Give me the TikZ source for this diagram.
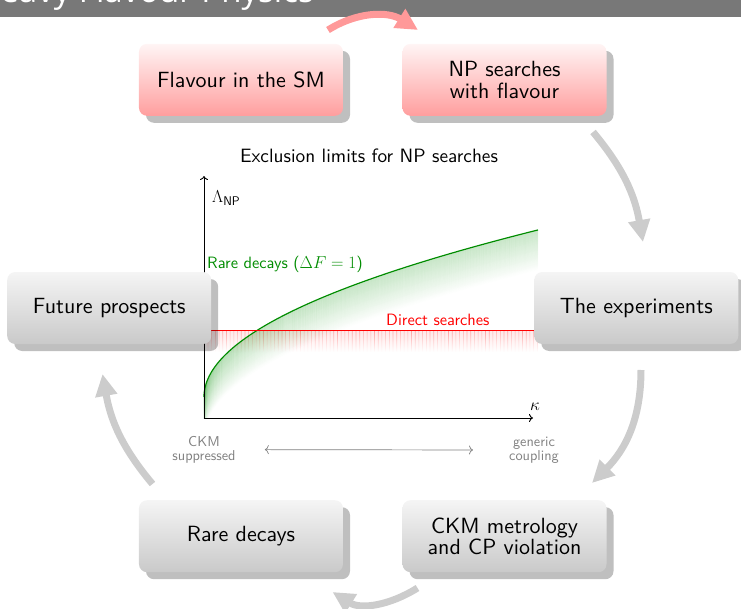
\documentclass[tikz,border=0pt]{standalone}
\usepackage{fontspec}
\usetikzlibrary{arrows.meta,shadows}
\newfontfamily\lmsten{lmsans10-regular}[Extension=.otf]
\newfontfamily\titlefont{Open Sans}

\tikzset{
  module/.style={rectangle, rounded corners=8pt, minimum width=204pt, minimum height=72pt,
    inner sep=0pt, align=center, text=black, font=\fontsize{22}{21.6}\lmsten,
    drop shadow={shadow xshift=7pt, shadow yshift=-7pt, opacity=.25, fill=black}},
  hot/.style={module, top color=red!4, bottom color=red!38},
  cold/.style={module, top color=black!4, bottom color=black!21},
  flow/.style={line width=7pt, draw=black!20, -{Triangle[length=22pt,width=21pt]}},
  flowhot/.style={flow, draw=red!40},
  axisline/.style={line width=0.9pt, -{To[length=4pt,width=8pt]}},
  note/.style={align=center, inner sep=0pt, text=black!50, font=\fontsize{14.3}{13.5}\lmsten},
  plotlabel/.style={inner sep=0pt, font=\fontsize{16.4}{17}\lmsten},
}

\begin{document}
\begin{tikzpicture}[x=1pt,y=1pt]
\useasboundingbox (-372.75,-300) rectangle (368.25,308);
\clip (-372.75,-300) rectangle (368.25,308);

% title bar
\fill[black!53] (-372.75,291) rectangle (368.25,308);
\node[anchor=base east, text=white, inner sep=0pt, font=\fontsize{33}{33}\titlefont] (frametitle) at (-58.75,305) {Heavy Flavour Physics};

% ---- exclusion plot ----
\coordinate (O) at (-168.75,-110);
\coordinate (yend) at (-168.75,132);
\coordinate (xend) at (160.25,-110);
\node[anchor=base, inner sep=0pt, font=\fontsize{19.3}{20}\lmsten] (plottitle) at (-3.75,145) {Exclusion limits for NP searches};

% hatched band below the direct search bound
\shade[top color=red!9, bottom color=white] (-168.75,-44) rectangle (165.25,-22);
\begin{scope}
  \clip \foreach \x in {0,3.7,...,333} { (-168.75+\x,-44) rectangle ++(0.6,22) };
  \shade[top color=red!38, bottom color=white] (-168.75,-44) rectangle (165.25,-22);
\end{scope}

% faded band below the rare-decay bound
\begin{scope}
  \clip (-168.75,-110) rectangle (165.25,200);
  \foreach \s in {1,...,40}{
    \pgfmathsetmacro\op{0.18*(1-\s/41)}
    \draw[draw=green!55!black, line width=1.1pt, opacity=\op]
      plot[domain=0:18.276, samples=70, variable=\t] ({-168.75+\t*\t},{-89+9.14*\t-\s});
  }
\end{scope}
\draw[green!55!black, line width=1.2pt]
  plot[domain=0:18.276, samples=80, variable=\t] ({-168.75+\t*\t},{-89+9.14*\t});

\draw[red, line width=1pt] (-168.75,-22) -- (165.25,-22);

\node[plotlabel, anchor=base west, text=green!55!black] (rarelabel) at (-165.75,40) {Rare decays ($\Delta F = 1$)};
\node[plotlabel, anchor=base west, text=red] (directlabel) at (13.25,-17) {Direct searches};

\draw[axisline] (O) -- (yend);
\draw[axisline] (O) -- (xend);
\node[anchor=base west, inner sep=0pt, font=\fontsize{18}{18}\selectfont] (lambda) at (-160.75,105) {$\Lambda_{\mathsf{NP}}$};
\node[inner sep=0pt, font=\fontsize{18}{18}\selectfont] (kappa) at (162.25,-99) {$\kappa$};

\node[note, anchor=base] (ckmnote) at (-168.75,-152) {CKM\\suppressed};
\node[note, anchor=base] (gennote) at (161.25,-152) {generic\\coupling};
\draw[black!50, line width=0.7pt, {To[length=4pt,width=9pt]}-{To[length=4pt,width=9pt]},
      shorten <=29pt, shorten >=36pt] (ckmnote.east) -- (gennote.west);

% ---- cycle arrows ----
\coordinate (a1s) at (-44.75,278);   \coordinate (a1e) at (45.25,278);
\coordinate (a2s) at (220.25,176);   \coordinate (a2e) at (270.25,66);
\coordinate (a3s) at (268.25,-62);   \coordinate (a3e) at (219.25,-175);
\coordinate (a4s) at (44.75,-280);   \coordinate (a4e) at (-40.25,-284);
\coordinate (a5s) at (-220.25,-176); \coordinate (a5e) at (-270.25,-66);
\draw[flowhot] (a1s) to[out=32,in=148] (a1e);
\draw[flow] (a2s) to[out=-50,in=100] (a2e);
\draw[flow] (a3s) to[out=-90,in=45] (a3e);
\draw[flow] (a4s) to[out=212,in=-32] (a4e);
\draw[flow] (a5s) to[out=130,in=-80] (a5e);

% ---- modules ----
\node[hot]  (sm)     at (120:263.5) {Flavour in the SM};
\node[hot]  (np)     at (60:263.5)  {NP searches\\with flavour};
\node[cold] (exp)    at (0:263.5)   {The experiments};
\node[cold] (ckm)    at (-60:263.5) {CKM metrology\\and CP violation};
\node[cold] (rare)   at (-120:263.5){Rare decays};
\node[cold] (future) at (180:263.5) {Future prospects};
\end{tikzpicture}
\end{document}
